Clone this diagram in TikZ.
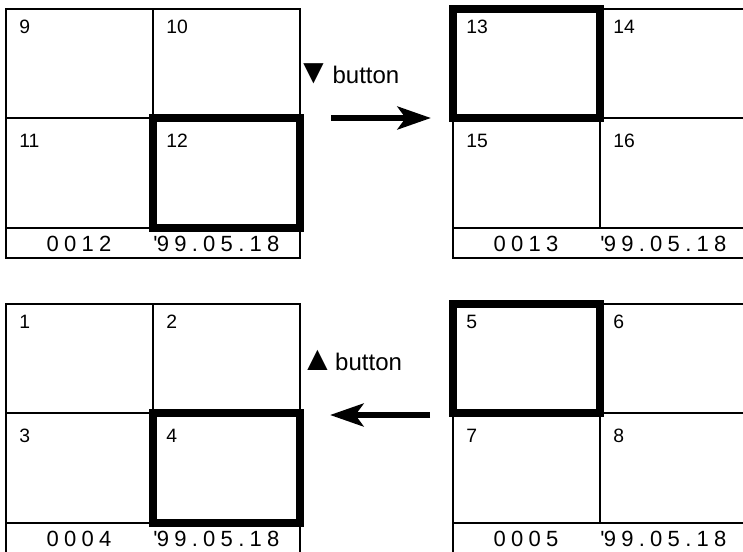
\documentclass[tikz,border=0pt]{standalone}
\usepackage{fontspec}
\setmainfont{Liberation Sans}
\newfontfamily\statusfont[LetterSpace=24,Ligatures=TeXOff]{Liberation Sans}
\usetikzlibrary{arrows.meta}

\tikzset{
  panelline/.style={line width=2.2pt},
  divline/.style={line width=1.6pt},
  selbox/.style={line width=6pt},
  cellnum/.style={font=\fontsize{14.5}{17}\selectfont, inner sep=0pt, anchor=north west},
  statustext/.style={font=\statusfont\fontsize{16.5}{19}\selectfont, inner sep=0pt},
  btnlabel/.style={font=\fontsize{18}{21}\selectfont, inner sep=0pt, anchor=base west},
  movearrow/.style={line width=5pt, -{Stealth[length=25pt, width=17pt, inset=6pt]}}
}

\begin{document}
\begin{tikzpicture}[x=0.75pt, y=-0.75pt]
\useasboundingbox (0,0) rectangle (743,551);
\clip (0,0) rectangle (743,551);

% ===== PANELS: 2x2 grid with status strip =====
\foreach \px/\py/\first/\cnt/\hx/\hy/\pn in {6/9/9/0012/1/1/tl, 453/9/13/0013/0/0/tr,
                                             6/304/1/0004/1/1/bl, 453/304/5/0005/0/0/br} {
  % frame and dividers
  \draw[panelline] (\px,\py) rectangle ++(294,249);
  \draw[panelline] (\px,\py+219) -- ++(294,0);
  \draw[divline] (\px,\py+109) -- ++(294,0);
  \draw[divline] (\px+147,\py) -- ++(0,219);
  % cell numbers
  \foreach \r in {0,1} {
    \foreach \c in {0,1} {
      \pgfmathtruncatemacro{\n}{\first+2*\r+\c}
      \node[cellnum] (\pn-cell\n) at (\px+147*\c+13, \py+109*\r+11+5*\r) {\n};
    }
  }
  % counter and date
  \node[statustext, anchor=base] (\pn-count) at (\px+73,\py+242) {\cnt};
  \node[statustext, anchor=base west] (\pn-date) at (\px+147,\py+242) {'\kern-0.03em99.05.18};
  % selected cell
  \draw[selbox] (\px+147*\hx,\py+109*\hy) rectangle (\px+147*\hx+147,\py+109+110*\hy);
}

% ===== BUTTONS =====
\node[btnlabel] (dnbtn) at (296,83) {{\fontsize{26}{26}\selectfont ▼}\kern1.5pt button};
\coordinate (dnfrom) at (331,118);
\coordinate (dnto) at (431,118);
\draw[movearrow] (dnfrom) -- (dnto);

\node[btnlabel] (upbtn) at (300,370) {{\fontsize{26}{26}\selectfont ▲}\kern0.5pt button};
\coordinate (upfrom) at (430,415);
\coordinate (upto) at (330,415);
\draw[movearrow] (upfrom) -- (upto);

\end{tikzpicture}
\end{document}
